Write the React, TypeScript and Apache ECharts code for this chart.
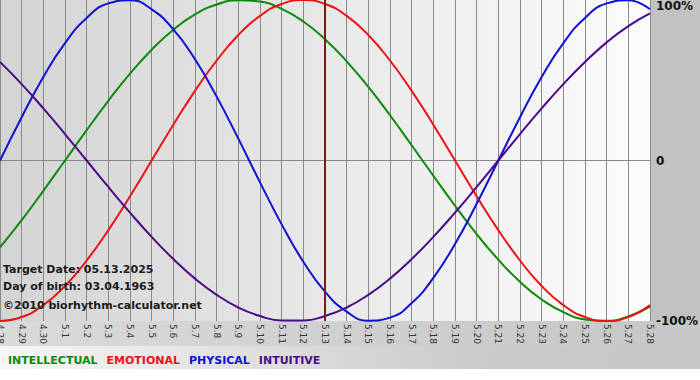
import React, { useEffect, useRef } from "react";
import * as echarts from "echarts";

const days = [
  "4.28", "4.29", "4.30", "5.1", "5.2", "5.3", "5.4", "5.5", "5.6", "5.7", "5.8",
  "5.9", "5.10", "5.11", "5.12", "5.13", "5.14", "5.15", "5.16", "5.17", "5.18",
  "5.19", "5.20", "5.21", "5.22", "5.23", "5.24", "5.25", "5.26", "5.27", "5.28",
];

const physical = [
  0, 27.0, 52.0, 73.1, 88.8, 97.9, 99.8, 94.2, 81.7, 63.1, 39.8, 13.6, -13.6, -39.8,
  -63.1, -81.7, -94.2, -99.8, -97.9, -88.8, -73.1, -52.0, -27.0, 0, 27.0, 52.0, 73.1,
  88.8, 97.9, 99.8, 94.2,
];
const emotional = [
  -100, -97.5, -90.1, -78.2, -62.3, -43.4, -22.3, 0, 22.3, 43.4, 62.3, 78.2, 90.1, 97.5,
  100, 97.5, 90.1, 78.2, 62.3, 43.4, 22.3, 0, -22.3, -43.4, -62.3, -78.2, -90.1, -97.5,
  -100, -97.5, -90.1,
];
const intellectual = [
  -54.1, -37.2, -18.9, 0, 18.9, 37.2, 54.1, 69.0, 81.5, 91.0, 97.2, 99.9, 99.0, 94.5,
  86.6, 75.6, 61.8, 45.8, 28.2, 9.5, -9.5, -28.2, -45.8, -61.8, -75.6, -86.6, -94.5,
  -99.0, -99.9, -97.2, -91.0,
];
const intuitive = [
  61.4, 47.6, 32.5, 16.5, 0, -16.5, -32.5, -47.6, -61.4, -73.6, -83.7, -91.6, -96.9,
  -99.7, -99.7, -96.9, -91.6, -83.7, -73.6, -61.4, -47.6, -32.5, -16.5, 0, 16.5, 32.5,
  47.6, 61.4, 73.6, 83.7, 91.6,
];

const targetDay = "5.13";
const infoLines = [
  "Target Date: 05.13.2025",
  "Day of birth: 03.04.1963",
  "©2010 biorhythm-calculator.net",
];
const yLabels: Record<string, string> = { "100": "100%", "0": "0", "-100": "-100%" };

const seriesDefs = [
  { name: "INTELLECTUAL", data: intellectual, color: "#0a8a0a" },
  { name: "EMOTIONAL", data: emotional, color: "#ee1111" },
  { name: "PHYSICAL", data: physical, color: "#1010d0" },
  { name: "INTUITIVE", data: intuitive, color: "#4b0a8a" },
];

const FONT = "DejaVu Sans, Verdana, sans-serif";

export default function App() {
  const ref = useRef<HTMLDivElement>(null);

  useEffect(() => {
    if (!ref.current) return;
    const chart = echarts.init(ref.current, null, { renderer: "svg" });
    chart.setOption({
      animation: false,
      backgroundColor: "#ffffff",
      grid: {
        left: 0,
        top: 0,
        width: 650,
        height: 321,
        outerBoundsMode: "none",
        containLabel: false,
        show: true,
        borderWidth: 0,
        backgroundColor: new echarts.graphic.LinearGradient(0, 0, 1, 0, [
          { offset: 0, color: "#d4d4d4" },
          { offset: 1, color: "#fcfcfc" },
        ]),
      },
      graphic: [
        {
          type: "rect",
          z: -10,
          silent: true,
          shape: { x: 650, y: 0, width: 50, height: 321 },
          style: { fill: "#c2c2c2" },
        },
        {
          type: "rect",
          z: -10,
          silent: true,
          shape: { x: 0, y: 321, width: 700, height: 25 },
          style: {
            fill: new echarts.graphic.LinearGradient(0, 0, 1, 0, [
              { offset: 0, color: "#dadada" },
              { offset: 1, color: "#c6c6c6" },
            ]),
          },
        },
        {
          type: "rect",
          z: -10,
          silent: true,
          shape: { x: 0, y: 346, width: 700, height: 23 },
          style: {
            fill: new echarts.graphic.LinearGradient(0, 0, 1, 0, [
              { offset: 0, color: "#f6f6f6" },
              { offset: 0.7, color: "#cacaca" },
              { offset: 1, color: "#c6c6c6" },
            ]),
          },
        },
        ...infoLines.map((t, i) => ({
          type: "text",
          z: 100,
          silent: true,
          left: 3,
          top: [264, 281, 300][i],
          style: {
            text: t,
            font: `bold 11px ${FONT}`,
            fill: "#1a1a1a",
          },
        })),
      ],
      legend: {
        left: 3,
        top: 355,
        icon: "none",
        itemWidth: 0,
        itemHeight: 11,
        itemGap: 4,
        padding: 0,
        selectedMode: false,
        textStyle: { fontFamily: FONT, fontSize: 11, fontWeight: "bold", padding: 0 },
        data: seriesDefs.map((s) => ({ name: s.name, textStyle: { color: s.color } })),
      },
      xAxis: {
        type: "category",
        data: days,
        boundaryGap: false,
        axisLine: { show: true, lineStyle: { color: "#888888", width: 1 } },
        axisTick: { show: true, length: 3, interval: 0, lineStyle: { color: "#888888" } },
        splitLine: { show: true, interval: 0, lineStyle: { color: "#8a8a8a", width: 1 } },
        axisLabel: {
          interval: 0,
          rotate: -90,
          margin: 3,
          fontFamily: FONT,
          fontSize: 9,
          color: "#333333",
        },
      },
      yAxis: {
        type: "value",
        position: "right",
        min: -100,
        max: 100,
        interval: 100,
        axisLine: { show: false },
        axisTick: { show: false },
        splitLine: {
          show: true,
          showMinLine: false,
          showMaxLine: false,
          lineStyle: { color: "#8a8a8a", width: 1 },
        },
        axisLabel: {
          margin: 6,
          fontFamily: FONT,
          fontSize: 12,
          fontWeight: "bold",
          color: "#111111",
          verticalAlignMaxLabel: "top",
          formatter: (v: number) => yLabels[String(v)] ?? "",
        },
      },
      series: [
        ...seriesDefs.map((s) => ({
          name: s.name,
          type: "line",
          data: s.data,
          smooth: true,
          showSymbol: false,
          symbol: "none",
          lineStyle: { color: s.color, width: 2 },
          itemStyle: { color: s.color },
        })),
        {
          name: "target",
          type: "line",
          data: [],
          markLine: {
            silent: true,
            symbol: "none",
            label: { show: false },
            lineStyle: { color: "#801818", width: 2, type: "solid" },
            data: [{ xAxis: targetDay }],
          },
        },
      ],
    });
    return () => chart.dispose();
  }, []);

  return (
    <div
      ref={ref}
      style={{ position: "absolute", left: 0, top: 0, width: 700, height: 380 }}
    />
  );
}
